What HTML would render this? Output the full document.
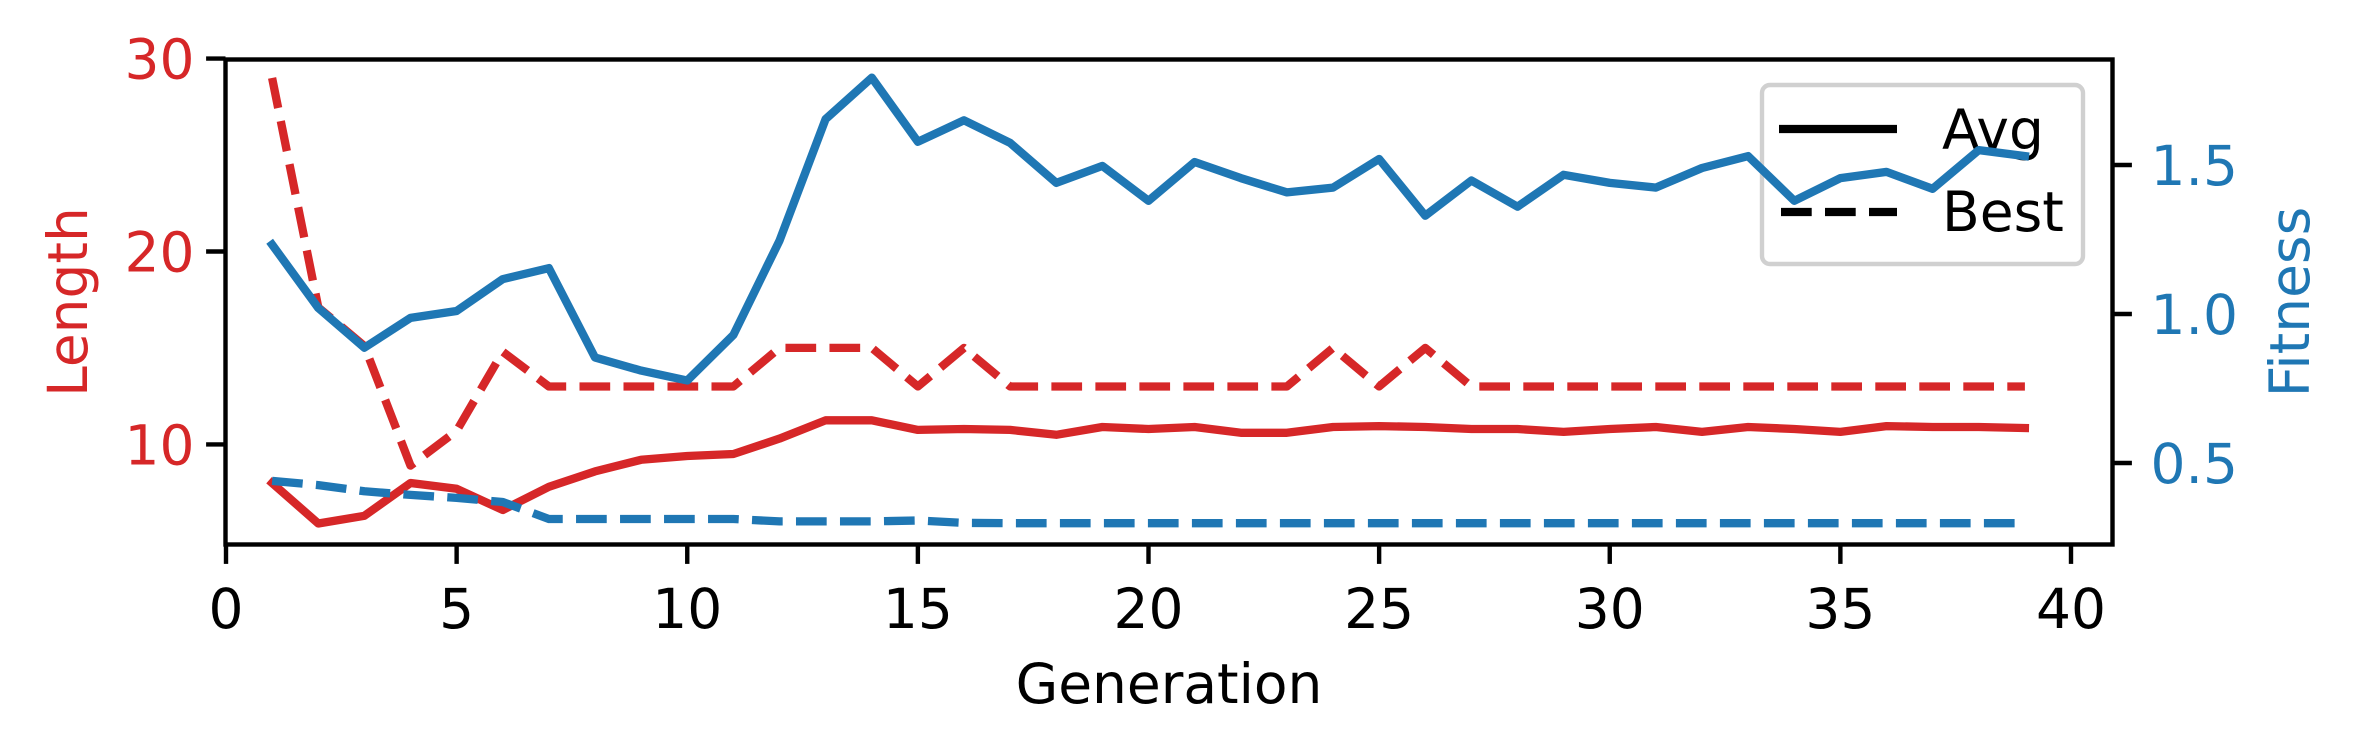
<!DOCTYPE html>
<html><head><meta charset="utf-8">
<style>
html,body{margin:0;padding:0;background:#fff;}
svg{display:block;font-family:"DejaVu Sans","Liberation Sans",sans-serif;}
</style></head>
<body>
<svg id="chart" width="2355" height="755" viewBox="0 0 2355 755" xmlns="http://www.w3.org/2000/svg">
<rect x="0" y="0" width="2355" height="755" fill="#fff"/>
<g id="marks"></g>
<g id="axes"></g>
<g id="legend"></g>
<g id="marks2"></g>
</svg>
<script>
const generations = [1,2,3,4,5,6,7,8,9,10,11,12,13,14,15,16,17,18,19,20,21,22,23,24,25,26,27,28,29,30,31,32,33,34,35,36,37,38,39];
const avgLength = [8,5.9,6.3,8,7.7,6.6,7.8,8.6,9.2,9.4,9.5,10.3,11.25,11.25,10.75,10.8,10.75,10.5,10.9,10.8,10.9,10.6,10.6,10.9,10.95,10.9,10.8,10.8,10.65,10.8,10.9,10.65,10.9,10.8,10.65,10.95,10.9,10.9,10.85];
const bestLength = [29,17.1,15.1,8.9,10.7,14.8,13,13,13,13,13,15,15,15,13,15,13,13,13,13,13,13,13,15,13,15,13,13,13,13,13,13,13,13,13,13,13,13,13];
const avgFitness = [1.233,1.02,0.887,0.987,1.01,1.117,1.154,0.854,0.81,0.777,0.93,1.246,1.654,1.793,1.578,1.65,1.574,1.44,1.497,1.38,1.51,1.456,1.408,1.424,1.52,1.33,1.448,1.36,1.467,1.44,1.424,1.49,1.53,1.38,1.456,1.477,1.42,1.55,1.53];
const bestFitness = [0.44,0.426,0.405,0.393,0.383,0.369,0.312,0.312,0.312,0.312,0.312,0.304,0.304,0.304,0.307,0.299,0.298,0.298,0.298,0.298,0.298,0.298,0.298,0.298,0.298,0.298,0.298,0.298,0.298,0.298,0.298,0.298,0.298,0.298,0.298,0.298,0.298,0.298,0.298];
const xTicks = [0,5,10,15,20,25,30,35,40];
const lenTicks = [10,20,30];
const fitTicks = [0.5,1.0,1.5];

const NS="http://www.w3.org/2000/svg";
const L=225.5,R=2112.5,T=59.5,B=544.5;
const RED="#d62728",BLUE="#1f77b4";
function xS(v){return 226+(v-0)*(2071-226)/40;}
function yL(v){return 444.4-(v-10)*19.29;}
function yF(v){return 463-(v-0.5)*298;}
function mk(tag,attrs,parent){const e=document.createElementNS(NS,tag);for(const k in attrs)e.setAttribute(k,attrs[k]);parent.appendChild(e);return e;}
const marks=document.getElementById('marks'),marks2=document.getElementById('marks2'),axes=document.getElementById('axes'),leg=document.getElementById('legend');
const LW=8.3,DASH="30.7 13.3";
function series(xs,ys,sc,color,dash,name,parent){
  const d=xs.map((g,i)=>(i?'L':'M')+xS(g).toFixed(1)+' '+sc(ys[i]).toFixed(1)).join(' ');
  const p=mk('path',{d:d,fill:'none',stroke:color,'stroke-width':LW,'stroke-linejoin':'round','stroke-linecap':dash?'butt':'square'},parent);
  if(dash)p.setAttribute('stroke-dasharray',DASH);
  
  
}
series(generations,avgLength,yL,RED,false,'avg-length-line',marks);
series(generations,bestLength,yL,RED,true,'best-length-line',marks);
series(generations,avgFitness,yF,BLUE,false,'avg-fitness-line',marks2);
series(generations,bestFitness,yF,BLUE,true,'best-fitness-line',marks2);

const sp=mk('rect',{x:L,y:T,width:R-L,height:B-T,fill:'none',stroke:'#000','stroke-width':4.4},axes);


xTicks.forEach(v=>{
  const x=xS(v);
  const t=mk('line',{x1:x,x2:x,y1:B,y2:B+19.4,stroke:'#000','stroke-width':4.4},axes);
  
  
  const tx=mk('text',{x:x,y:628,'font-size':55,'text-anchor':'middle',fill:'#000'},axes);
  tx.textContent=v;
  
  
});
lenTicks.forEach(v=>{
  const y=yL(v);
  const t=mk('line',{x1:L-19.4,x2:L,y1:y,y2:y,stroke:'#000','stroke-width':4.4},axes);
  
  
  const tx=mk('text',{x:L-31,y:y+20,'font-size':55,'text-anchor':'end',fill:RED},axes);
  tx.textContent=v;
  
  
});
fitTicks.forEach(v=>{
  const y=yF(v);
  const t=mk('line',{x1:R,x2:R+19.4,y1:y,y2:y,stroke:'#000','stroke-width':4.4},axes);
  
  
  const tx=mk('text',{x:R+38,y:y+20,'font-size':55,'text-anchor':'start',fill:BLUE},axes);
  tx.textContent=v.toFixed(1);
  
  
});
const xl=mk('text',{x:1169,y:703,'font-size':55,'text-anchor':'middle',fill:'#000'},axes);
xl.textContent='Generation';


const yl=mk('text',{x:0,y:0,'font-size':55,'text-anchor':'middle',fill:RED,transform:'translate(87,302) rotate(-90)'},axes);
yl.textContent='Length';


const yr=mk('text',{x:0,y:0,'font-size':55,'text-anchor':'middle',fill:BLUE,transform:'translate(2309,302) rotate(-90)'},axes);
yr.textContent='Fitness';



const lb=mk('rect',{x:1762,y:85,width:321,height:179,rx:8,fill:'#fff','fill-opacity':0.8,stroke:'#d0d0d0','stroke-width':4.4},leg);


const l1=mk('line',{x1:1779,x2:1897,y1:129,y2:129,stroke:'#000','stroke-width':LW},leg);


const t1=mk('text',{x:1942,y:149,'font-size':55,fill:'#000'},leg);
t1.textContent='Avg';


const l2=mk('line',{x1:1781,x2:1897,y1:212,y2:212,stroke:'#000','stroke-width':LW,'stroke-dasharray':DASH},leg);


const t2=mk('text',{x:1942,y:231,'font-size':55,fill:'#000'},leg);
t2.textContent='Best';


</script>
</body></html>
